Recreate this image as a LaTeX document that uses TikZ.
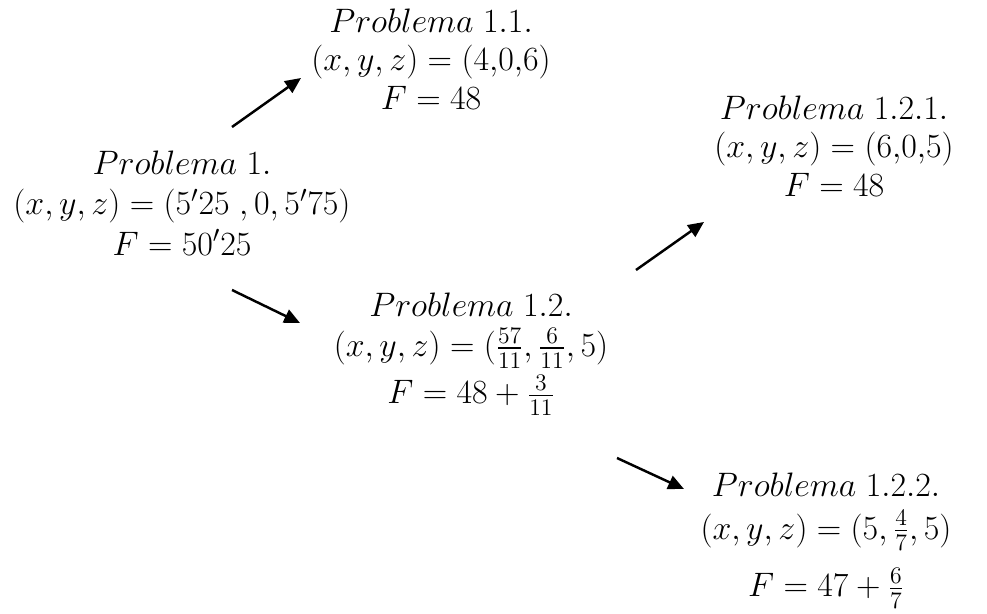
\documentclass[tikz,border=0pt]{standalone}
\usepackage{fix-cm}
\usepackage{amsmath}
\usepackage{tikz}
\usetikzlibrary{arrows.meta}
\tikzset{
  arr/.style={-{Triangle[length=9pt,width=8pt]},line width=1.4pt},
  prob/.style={align=center,inner sep=0pt,font=\fontsize{19.3}{22}\selectfont}
}

\begin{document}
\begin{tikzpicture}[x=0.02cm,y=-0.02cm]
\useasboundingbox (0,0) rectangle (987,614);
\node[prob] (p1)   at (182,203) {$Problema\;1.$\\[1pt] $(x,y,z)=(5'25\;,0,5'75)$\\[1pt] $F=50'25$};
\node[prob] (p11)  at (431,59)  {$Problema\;1.1.$\\ $(x,y,z)=(4{,}0{,}6)$\\ $F=48$};
\node[prob] (p12)  at (471,354) {$Problema\;1.2.$\\[1pt] $(x,y,z)=(\frac{57}{11},\frac{6}{11},5)$\\[3pt] $F=48+\frac{3}{11}$};
\node[prob] (p121) at (834,146) {$Problema\;1.2.1.$\\ $(x,y,z)=(6{,}0{,}5)$\\ $F=48$};
\node[prob] (p122) at (826,541) {$Problema\;1.2.2.$\\[2pt] $(x,y,z)=(5,\frac{4}{7},5)$\\[9pt] $F=47+\frac{6}{7}$};

% arrow ends
\coordinate (a1s) at (232,127); \coordinate (a1e) at (301,78);
\coordinate (a2s) at (232,290); \coordinate (a2e) at (300,323);
\coordinate (a3s) at (636,270); \coordinate (a3e) at (704,222);
\coordinate (a4s) at (617,458); \coordinate (a4e) at (684,489);

\draw[arr] (a1s) -- (a1e);
\draw[arr] (a2s) -- (a2e);
\draw[arr] (a3s) -- (a3e);
\draw[arr] (a4s) -- (a4e);
\end{tikzpicture}
\end{document}
